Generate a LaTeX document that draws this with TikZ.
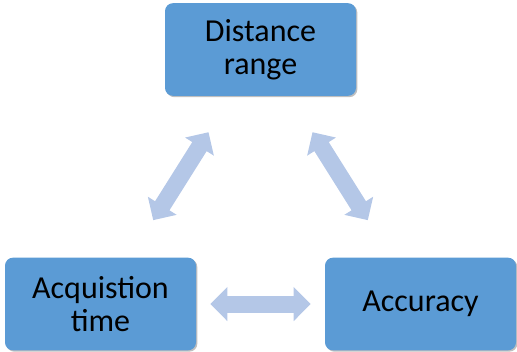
\documentclass[tikz,border=0pt]{standalone}
\usepackage{fontspec}
\setmainfont{Carlito}
\usetikzlibrary{arrows.meta, shadows}
\definecolor{TopicBlue}{RGB}{91, 155, 213}
\definecolor{LinkBlue}{RGB}{180, 199, 231}

\tikzset{
  topic/.style={fill=TopicBlue, rounded corners=6pt, minimum width=143.25pt, minimum height=69.5pt,
    align=center, inner sep=2pt, font=\fontsize{24}{25}\selectfont,
    drop shadow={shadow xshift=1pt, shadow yshift=-1pt, opacity=0.25, fill=black}},
  link/.style={draw=LinkBlue, line width=12.75pt,
    {Triangle[length=12.75pt, width=24.75pt]}-{Triangle[length=12.75pt, width=24.75pt]}}
}

\begin{document}
\begin{tikzpicture}[x=0.75pt, y=-0.75pt]
    \useasboundingbox (0,0) rectangle (517,351);

    % the three boxes
    \node[topic] (dist) at (260.5,49.5) {Distance\\range};
    \node[topic] (acq) at (100.5,304) {Acquistion\\time};
    \node[topic] (acc) at (420.5,304) {Accuracy};

    % double arrows between them
    \draw[link, shorten <=33pt, shorten >=32pt] (acq) -- (dist);
    \draw[link, shorten <=32pt, shorten >=33pt] (dist) -- (acc);
    \draw[link, shorten <=10.5pt, shorten >=10.5pt] (acq.east) -- (acc.west);
  \end{tikzpicture}
\end{document}
